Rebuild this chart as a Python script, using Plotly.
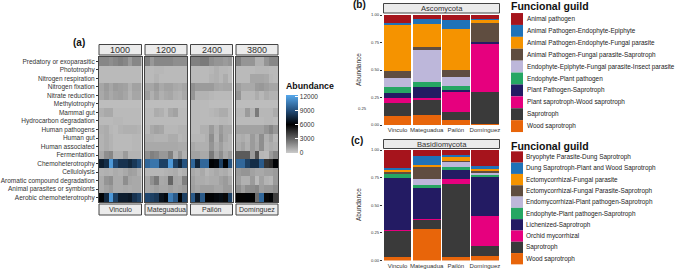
import numpy as np
import plotly.graph_objects as go

W, H = 677, 270
functions = ["Predatory or exoparasitic", "Phototrophy", "Nitrogen respiration", "Nitrogen fixation",
             "Nitrate reduction", "Methylotrophy", "Mammal gut", "Hydrocarbon degradation", "Human pathogens",
             "Human gut", "Human associated", "Fermentation", "Chemoheterotrophy", "Cellulolysis",
             "Aromatic compound degradation", "Animal parasites or symbionts", "Aerobic chemoheterotrophy"]
depths = ["1000", "1200", "2400", "3800"]
sites = ["Vinculo", "Mateguadua", "Pailón", "Domínguez"]
samples = list(range(1, 10))

# abundance, in hundreds
vinculo_1000 = [
    [20,20,18,20,22,20,14,20,20],[5,5,5,5,5,5,5,5,5],[5,5,5,5,5,5,5,5,5],[11,14,11,14,13,12,8,12,12],
    [10,13,10,12,13,11,7,11,11],[4,4,4,4,4,4,4,4,4],[8,10,10,5,5,5,5,5,5],[5,5,5,6,6,5,5,5,5],
    [8,9,6,5,7,8,8,8,7],[7,9,7,5,5,5,5,6,6],[7,9,7,5,5,5,5,6,6],[10,18,20,8,8,14,7,7,7],
    [72,78,118,88,80,80,76,82,90],[7,8,7,9,8,10,13,12,8],[9,16,18,9,9,18,11,10,10],
    [9,12,14,9,9,10,9,10,10],[62,76,118,85,72,72,70,80,85]]
mateguadua_1200 = [
    [22,15,20,20,20,20,18,18,18],[5,5,6,6,5,5,5,5,5],[5,5,7,5,5,5,5,5,5],[11,11,14,10,12,12,10,9,11],
    [13,8,12,8,10,11,8,7,10],[4,4,4,4,4,4,4,4,4],[5,5,9,8,5,10,12,5,5],[5,5,5,5,5,5,5,5,5],
    [6,10,12,11,6,6,6,7,7],[8,8,7,7,7,9,9,6,7],[10,10,10,10,10,10,10,9,9],[17,22,20,15,15,22,8,15,8],
    [100,105,105,85,85,118,85,75,92],[6,6,6,6,7,8,9,6,8],[10,17,24,10,11,30,11,10,22],
    [10,11,13,11,11,13,11,12,14],[88,85,82,68,64,108,95,62,85]]
pailon_2400 = [
    [22,22,24,24,18,16,16,14,16],[5,5,5,5,6,8,6,6,5],[5,5,5,5,7,8,6,9,5],[17,14,14,14,14,11,10,11,11],
    [16,7,7,7,6,5,5,5,5],[5,5,5,5,4,4,4,4,4],[5,5,5,5,6,7,9,9,5],[5,5,5,5,5,5,6,6,5],
    [5,5,8,8,14,8,14,10,10],[6,6,6,8,18,7,16,10,7],[10,8,8,8,16,9,13,8,7],[12,12,10,10,24,12,18,10,14],
    [100,75,100,100,62,64,85,62,92],[10,8,10,6,8,10,8,9,6],[12,9,9,8,9,9,12,14,10],
    [13,11,13,13,13,11,11,14,14],[95,70,95,60,62,64,66,58,85]]
dominguez_3800 = [
    [22,16,16,16,8,8,16,20,20],[5,5,5,5,6,6,6,5,5],[5,5,5,11,11,11,10,6,5],[13,10,10,10,14,15,13,11,11],
    [16,6,6,6,9,6,9,7,7],[4,4,4,4,4,4,4,4,4],[6,6,14,7,24,6,6,6,9],[5,5,5,5,5,5,6,6,5],
    [12,12,12,12,12,12,16,20,15],[8,9,7,14,9,18,8,12,6],[9,12,8,14,10,18,7,9,8],[33,33,33,14,36,6,5,14,20],
    [100,100,85,78,78,95,45,48,62],[14,16,16,12,10,10,12,12,14],[13,8,8,14,5,12,7,6,14],
    [18,13,18,18,20,13,15,15,18],[60,60,62,60,28,100,58,62,42]]
heat_panels = [vinculo_1000, mateguadua_1200, pailon_2400, dominguez_3800]

guilds_b = ["Wood saprotroph", "Saprotroph", "Plant saprotroph-Wood saprotroph", "Plant Pathogen-Saprotroph",
            "Endophyte-Plant pathogen", "Endophyte-Epiphyte-Fungal parasite-Insect parasite",
            "Animal Pathogen-Fungal parasite-Saprotroph", "Animal Pathogen-Endophyte-Fungal parasite",
            "Animal Pathogen-Endophyte-Epiphyte", "Animal pathogen"]
b_vinculo = [.085, .115, .05, .04, .06, .08, .06, .415, .025, .07]
b_mateguadua = [.09, .145, .015, .10, .045, .285, .025, .21, .05, .035]
b_pailon = [.05, .07, .185, .015, .035, .085, .06, .37, .085, .045]
b_dominguez = [.01, .29, .445, .01, 0, 0, .17, .03, .005, .04]
guilds_c = ["Wood saprotroph", "Saprotroph", "Orchid mycorrhizal", "Lichenized-Saprotroph",
            "Endophyte-Plant pathogen-Saprotroph", "Endomycorrhizal-Plant pathogen-Saprotroph",
            "Ectomycorrhizal-Fungal Parasite-Saprotroph", "Ectomycorrhizal-Fungal parasite",
            "Dung Saprotroph-Plant and Wood Saprotroph", "Bryophyte Parasite-Dung Saprotroph"]
c_vinculo = [.03, .24, .01, .47, .035, .005, .015, .015, .015, .165]
c_mateguadua = [.285, .085, .01, .28, .02, .055, .115, .01, .09, .05]
c_pailon = [.03, .66, .045, .085, .025, .05, .005, .045, .01, .045]
c_dominguez = [.04, .095, .265, .36, .01, .03, .01, .02, .025, .145]
guild_colors = ["#E8650A", "#3A3A3A", "#E6007E", "#231B63", "#26A663", "#BDB7DA", "#5F4D40", "#F59300", "#1F72B8", "#A6141C"]

FONT = "Liberation Sans"
TXT = "#333333"

def fx(px): return px / W
def fy(py): return 1 - py / H

fig = go.Figure()
layout = dict(width=W, height=H, autosize=False, margin=dict(l=0, r=0, t=0, b=0, autoexpand=False),
              paper_bgcolor="white", plot_bgcolor="white", font=dict(family=FONT, color=TXT), showlegend=False,
              barmode="stack", bargap=0.05)
shapes, annos = [], []

def text(px, py, s, size, xanchor="left", color=TXT, bold=False, fam=FONT, angle=0):
    annos.append(dict(x=fx(px), y=fy(py), xref="paper", yref="paper", text=f"<b>{s}</b>" if bold else s,
                      showarrow=False, xanchor=xanchor, yanchor="middle", textangle=angle,
                      font=dict(size=size, family=fam, color=color), borderpad=0, borderwidth=0))

def strip(x0, x1, y0, y1, s, size, fam=FONT):
    shapes.append(dict(type="rect", xref="paper", yref="paper", x0=fx(x0), x1=fx(x1), y0=fy(y0), y1=fy(y1),
                       fillcolor="#EBEBEB", line=dict(color="#444444", width=1)))
    text((x0 + x1) / 2, (y0 + y1) / 2, s, size, "center", fam=fam)

# (a) heatmap
colorscale = [[0, "#CBCBCB"], [0.24, "#666666"], [0.49, "#000000"], [0.73, "#234E7A"], [1, "#56A8EC"]]
panels_x = [(99, 141.5), (145, 187), (190.5, 232.5), (236, 278)]
for i, (z, (x0, x1)) in enumerate(zip(heat_panels, panels_x)):
    n = i + 1
    fig.add_trace(go.Heatmap(z=np.array(z) * 100, x=samples, y=functions, coloraxis="coloraxis",
                             xaxis=f"x{n}", yaxis=f"y{n}", xgap=0, ygap=0))
    layout[f"xaxis{n}"] = dict(domain=[fx(x0), fx(x1)], anchor=f"y{n}", showticklabels=False, ticks="",
                               showgrid=False, zeroline=False, showline=True, mirror=True,
                               linecolor="#444444", linewidth=1, constrain="domain")
    layout[f"yaxis{n}"] = dict(domain=[fy(202), fy(57)], anchor=f"x{n}", autorange="reversed", type="category",
                               showticklabels=i == 0, ticks="outside" if i == 0 else "", ticklen=2, tickwidth=1,
                               tickcolor="#333333", tickfont=dict(size=6.5, color=TXT), showgrid=False,
                               zeroline=False, showline=True, mirror=True, linecolor="#444444", linewidth=1,
                               categoryorder="array", categoryarray=functions, tickmode="array", tickvals=functions,
                               ticktext=functions)
    strip(x0, x1, 44.5, 55, depths[i], 9)
    strip(x0, x1, 204, 215, sites[i], 7)
layout["coloraxis"] = dict(cmin=0, cmax=12400, colorscale=colorscale, colorbar=dict(
    thickness=12, thicknessmode="pixels", len=58, lenmode="pixels", x=fx(286), xanchor="left", y=fy(95),
    yanchor="top", outlinewidth=0, tickvals=[0, 3000, 6000, 9000, 12000], tickformat="d", ticks="inside", ticklen=3,
    tickcolor="white", tickwidth=1, tickfont=dict(size=6.5, color=TXT), title=None, xpad=0, ypad=0))
text(286, 86, "Abundance", 8.8, bold=True, color="#111111")
text(73, 42, "(a)", 10, bold=True, color="#111111")

# (b), (c) stacked bars
def bars(vals, guilds, n, dom_top, dom_bot):
    for g, (name, color) in enumerate(zip(guilds, guild_colors)):
        fig.add_trace(go.Bar(x=sites, y=[v[g] for v in vals], name=name, marker=dict(color=color, line=dict(width=0)),
                             xaxis=f"x{n}", yaxis=f"y{n}", showlegend=False))
    layout[f"xaxis{n}"] = dict(domain=[fx(383), fx(499.5)], anchor=f"y{n}", showline=False, ticks="", showgrid=False,
                               tickfont=dict(size=6, color=TXT), tickangle=0, categoryorder="array",
                               categoryarray=sites, range=[-0.5, 3.5], tickmode="array", tickvals=sites, ticktext=sites)
    layout[f"yaxis{n}"] = dict(domain=[fy(dom_bot), fy(dom_top)], anchor=f"x{n}", range=[0, 1], showgrid=False,
                               zeroline=False, tickvals=[0, .25, .5, .75, 1], tickformat=".2f", ticks="outside",
                               ticklen=2, tickwidth=1, tickcolor="#333333", tickfont=dict(size=4.2, color=TXT))

bars([b_vinculo, b_mateguadua, b_pailon, b_dominguez], guilds_b, 5, 15, 125)
bars([c_vinculo, c_mateguadua, c_pailon, c_dominguez], guilds_c, 6, 150, 260.5)
strip(383.5, 499.5, 3.5, 13, "Ascomycota", 7.6)
strip(383.5, 499.5, 139.5, 148.5, "Basidiomycota", 7.6)
text(358, 70, "Abundance", 6.5, "center", angle=-90)
text(358, 205, "Abundance", 6.5, "center", angle=-90)
text(358, 108, "0.25", 4.2, "left")
text(353, 4.5, "(b)", 10, bold=True, color="#111111")
text(351, 140.5, "(c)", 10, bold=True, color="#111111")

def legend(title_y, first_y, step, guilds, text_x, size):
    text(511, title_y, "Funcional guild", 10.5, bold=True, color="#111111")
    for i, (name, color) in enumerate(zip(reversed(guilds), reversed(guild_colors))):
        cy = first_y + i * step
        shapes.append(dict(type="rect", xref="paper", yref="paper", x0=fx(511), x1=fx(523), y0=fy(cy - step / 2),
                           y1=fy(cy + step / 2), fillcolor=color, line=dict(width=0)))
        text(text_x, cy, name, size, color="#222222")

legend(6, 19, 11.9, guilds_b, 527, 6.4)
legend(145.5, 157, 11.3, guilds_c, 526, 6.4)

layout["shapes"] = shapes
layout["annotations"] = annos
fig.update_layout(**layout)
fig.write_html("out.html", post_script="document.body.style.margin='0';", config={"displayModeBar": False})
